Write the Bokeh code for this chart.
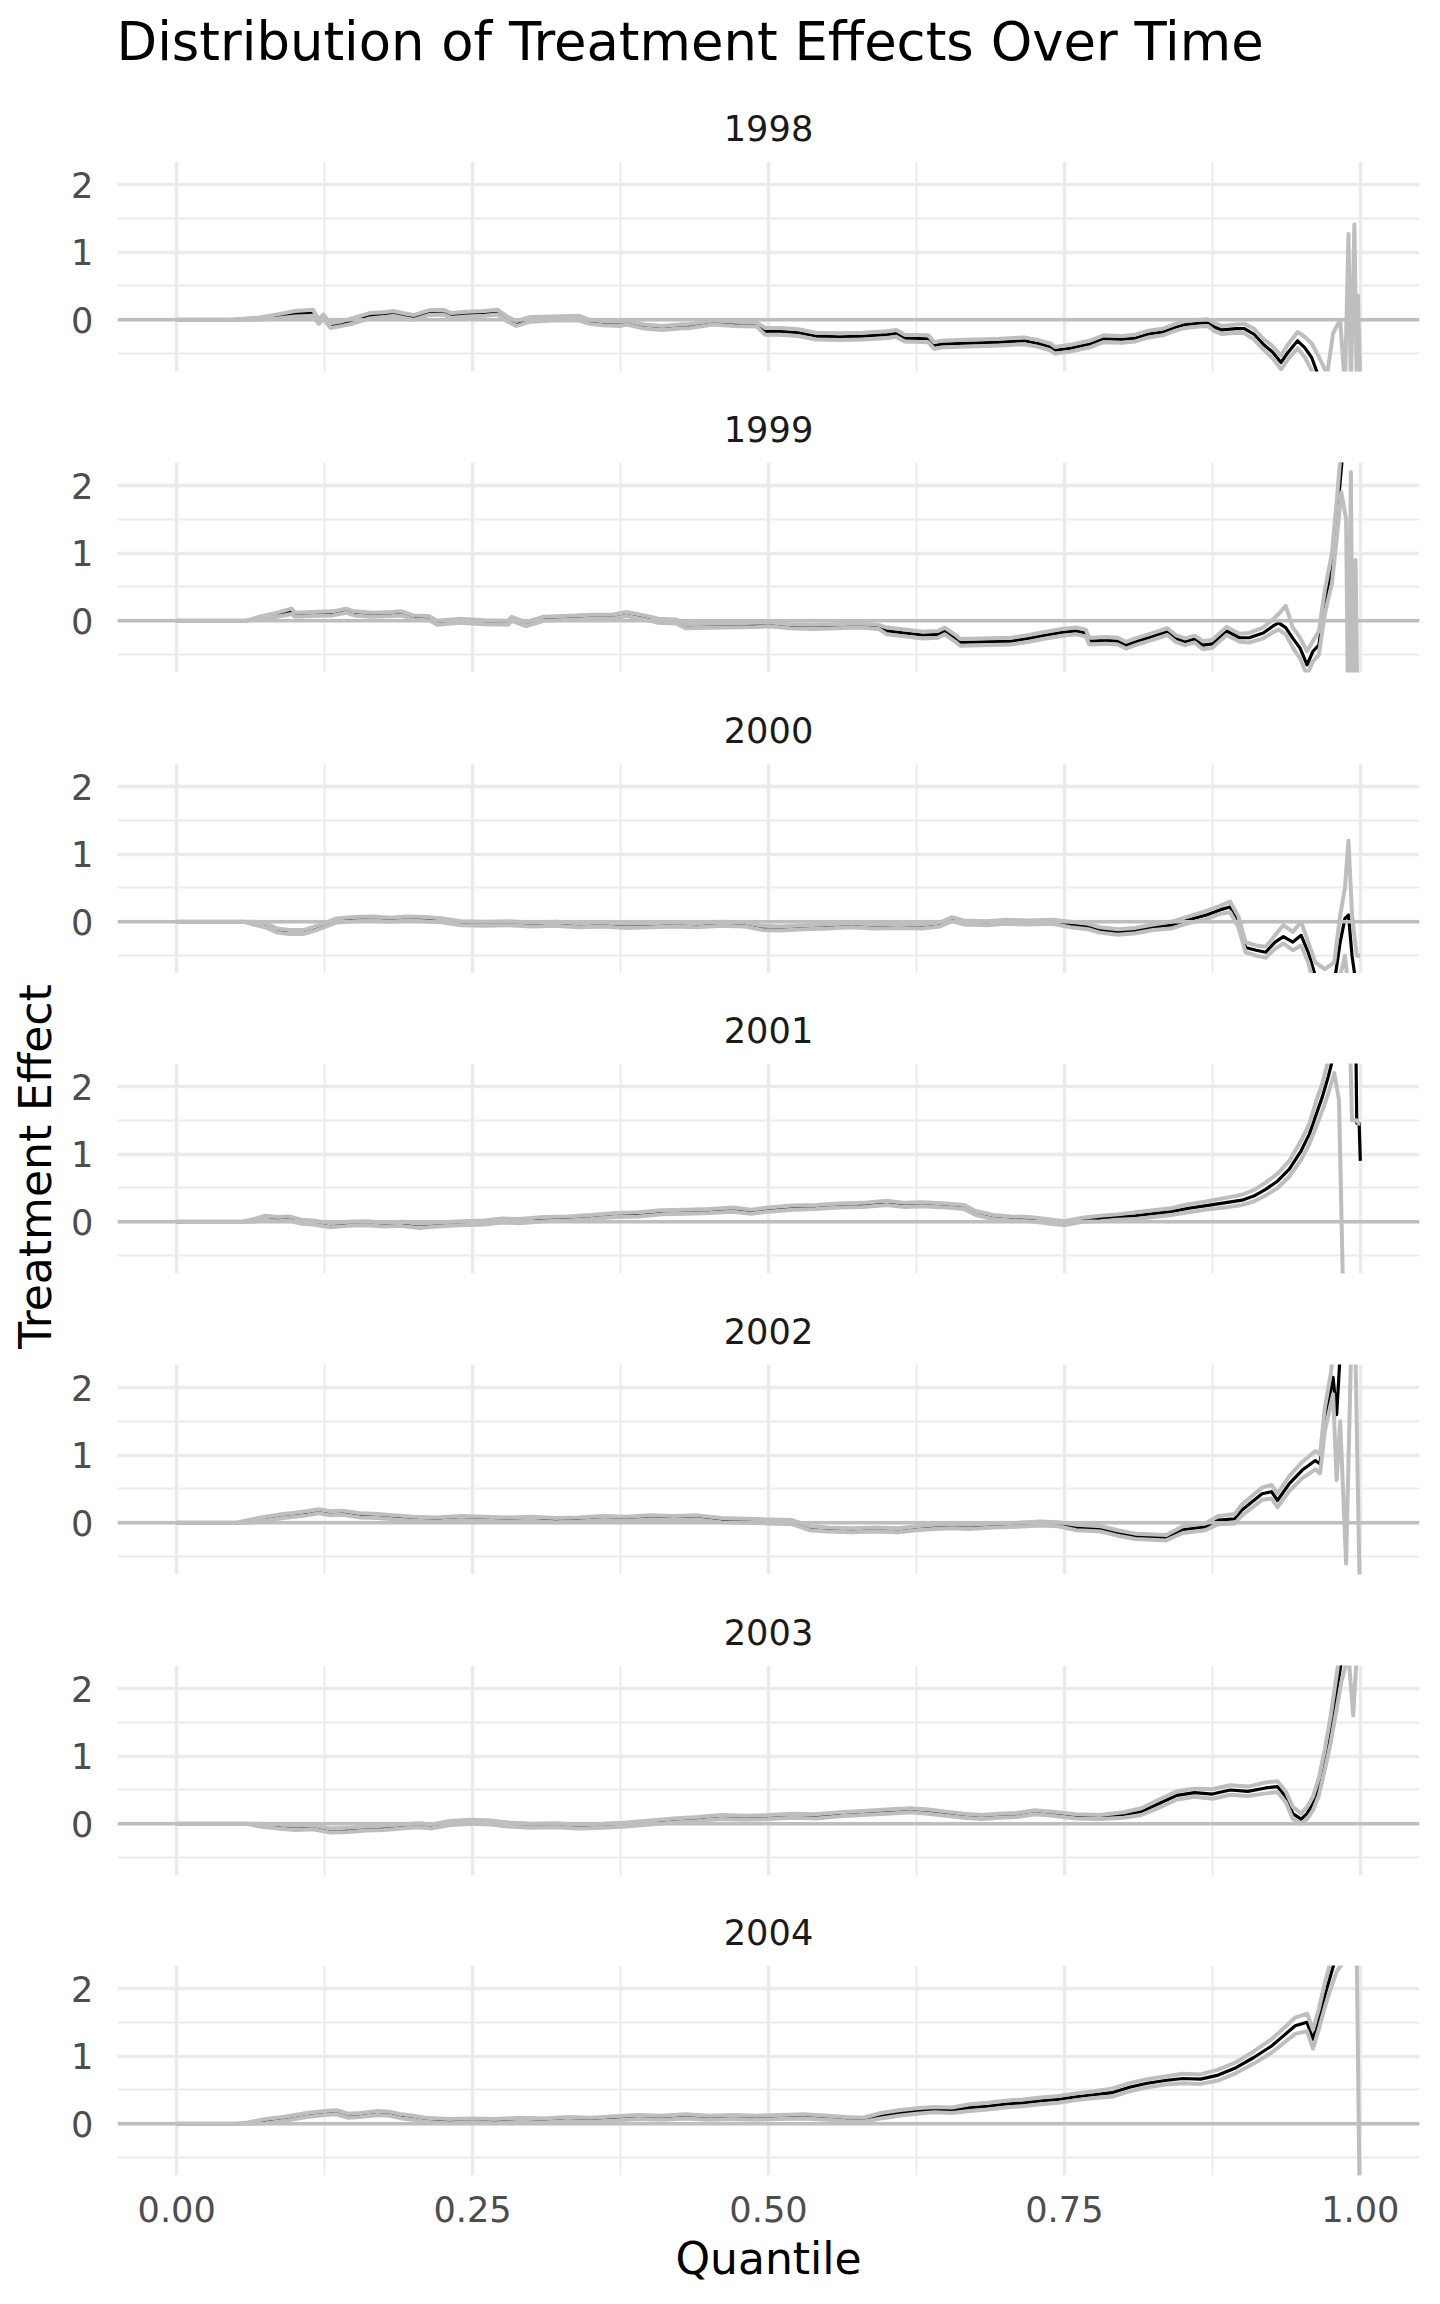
from bokeh.plotting import figure
from bokeh.layouts import column, row
from bokeh.models import Range1d, FixedTicker, NumeralTickFormatter, Title, ColumnDataSource, Span
from bokeh.embed import file_html
from bokeh.resources import INLINE

TITLE = "Distribution of Treatment Effects Over Time"
X_LABEL = "Quantile"
Y_LABEL = "Treatment Effect"
years = ["1998", "1999", "2000", "2001", "2002", "2003", "2004"]
x_ticks = [0.0, 0.25, 0.5, 0.75, 1.0]
x_minor = [0.125, 0.375, 0.625, 0.875]
y_ticks = [0, 1, 2]
y_minor = [-0.5, 0.5, 1.5]

# rows: (quantile, estimate, lower, upper)
rows_1998 = [
    (0, 0, 0, 0), (0.045, 0, 0, 0), (0.07, 0.02, 0.0, 0.035), (0.085, 0.05, 0.02, 0.08),
    (0.1, 0.09, 0.05, 0.13), (0.115, 0.1, 0.06, 0.15), (0.12, -0.03, -0.06, 0.01), (0.124, 0.05, 0.01, 0.08),
    (0.13, -0.08, -0.12, -0.05), (0.14, -0.05, -0.09, -0.02), (0.15, -0.01, -0.05, 0.03), (0.163, 0.06, 0.02, 0.1),
    (0.175, 0.08, 0.04, 0.11), (0.183, 0.1, 0.06, 0.13), (0.194, 0.06, 0.02, 0.09), (0.2, 0.03, 0.0, 0.07),
    (0.213, 0.11, 0.07, 0.14), (0.225, 0.12, 0.08, 0.15), (0.232, 0.06, 0.03, 0.1), (0.245, 0.09, 0.05, 0.12),
    (0.26, 0.1, 0.06, 0.13), (0.271, 0.12, 0.08, 0.15), (0.279, 0.02, -0.02, 0.05), (0.287, -0.06, -0.09, -0.02),
    (0.298, 0.01, -0.03, 0.04), (0.318, 0.02, -0.01, 0.05), (0.34, 0.03, -0.01, 0.06), (0.349, -0.03, -0.06, 0.0),
    (0.36, -0.05, -0.08, -0.02), (0.375, -0.06, -0.09, -0.03), (0.38, -0.04, -0.07, -0.01), (0.395, -0.1, -0.13, -0.07),
    (0.41, -0.12, -0.15, -0.09), (0.425, -0.1, -0.13, -0.07), (0.434, -0.09, -0.12, -0.06), (0.453, -0.04, -0.07, -0.01),
    (0.47, -0.06, -0.09, -0.03), (0.49, -0.07, -0.1, -0.04), (0.497, -0.17, -0.22, -0.12), (0.51, -0.17, -0.22, -0.12),
    (0.525, -0.19, -0.24, -0.14), (0.54, -0.24, -0.29, -0.19), (0.56, -0.25, -0.3, -0.2), (0.58, -0.24, -0.29, -0.19),
    (0.6, -0.22, -0.27, -0.17), (0.608, -0.2, -0.25, -0.15), (0.615, -0.27, -0.32, -0.22), (0.635, -0.28, -0.33, -0.23),
    (0.64, -0.38, -0.43, -0.33), (0.646, -0.36, -0.41, -0.31), (0.66, -0.35, -0.4, -0.3), (0.677, -0.34, -0.39, -0.29),
    (0.695, -0.33, -0.38, -0.28), (0.716, -0.31, -0.36, -0.26), (0.728, -0.35, -0.4, -0.3), (0.738, -0.4, -0.45, -0.35),
    (0.742, -0.45, -0.5, -0.4), (0.755, -0.42, -0.47, -0.37), (0.771, -0.36, -0.41, -0.31), (0.783, -0.28, -0.33, -0.23),
    (0.798, -0.29, -0.34, -0.24), (0.81, -0.27, -0.32, -0.22), (0.821, -0.21, -0.26, -0.16), (0.833, -0.18, -0.23, -0.13),
    (0.844, -0.11, -0.16, -0.06), (0.852, -0.07, -0.12, -0.02), (0.864, -0.05, -0.1, 0.0), (0.871, -0.04, -0.09, 0.01),
    (0.877, -0.11, -0.17, -0.05), (0.883, -0.15, -0.21, -0.09), (0.895, -0.13, -0.19, -0.07), (0.902, -0.13, -0.2, -0.06),
    (0.91, -0.21, -0.29, -0.13), (0.918, -0.36, -0.44, -0.28), (0.926, -0.48, -0.57, -0.39), (0.933, -0.63, -0.73, -0.53),
    (0.939, -0.48, -0.58, -0.36), (0.947, -0.31, -0.42, -0.18), (0.953, -0.41, -0.55, -0.25), (0.959, -0.56, -0.75, -0.35),
    (0.965, -0.85, -1.2, -0.55), (0.972, -1.1, -1.6, -0.8), (0.977, -1.0, -1.8, -0.2), (0.983, -1.0, -2.0, 0.0),
    (0.987, -1.2, -2.5, -1.0), (0.99, -1.0, -2.5, 1.27), (0.992, -1.2, -2.5, -1.0), (0.995, -1.1, -2.5, 1.41),
    (0.997, -1.2, -2.5, -1.0), (0.998, -1.0, -2.5, 0.36), (1.0, -1.1, -2.5, -1.0),
]

rows_1999 = [
    (0, 0, 0, 0), (0.058, 0, 0, 0), (0.07, 0.04, 0.02, 0.06), (0.085, 0.09, 0.06, 0.12),
    (0.097, 0.14, 0.1, 0.18), (0.1, 0.09, 0.06, 0.12), (0.115, 0.1, 0.07, 0.13), (0.132, 0.11, 0.08, 0.14),
    (0.143, 0.15, 0.12, 0.18), (0.15, 0.11, 0.08, 0.14), (0.165, 0.09, 0.06, 0.12), (0.182, 0.1, 0.07, 0.13),
    (0.19, 0.11, 0.08, 0.14), (0.2, 0.05, 0.02, 0.08), (0.213, 0.04, 0.01, 0.07), (0.22, -0.03, -0.06, 0.0),
    (0.24, 0.0, -0.03, 0.03), (0.26, -0.02, -0.05, 0.01), (0.28, -0.03, -0.06, 0.0), (0.283, 0.03, 0.0, 0.06),
    (0.295, -0.05, -0.08, -0.02), (0.31, 0.03, 0.0, 0.06), (0.337, 0.05, 0.02, 0.08), (0.35, 0.06, 0.03, 0.09),
    (0.368, 0.06, 0.03, 0.09), (0.38, 0.1, 0.07, 0.13), (0.395, 0.05, 0.02, 0.08), (0.407, 0.0, -0.03, 0.03),
    (0.422, -0.01, -0.04, 0.02), (0.43, -0.08, -0.11, -0.05), (0.46, -0.07, -0.1, -0.04), (0.49, -0.06, -0.09, -0.03),
    (0.5, -0.05, -0.08, -0.02), (0.518, -0.08, -0.11, -0.05), (0.538, -0.09, -0.12, -0.06), (0.557, -0.08, -0.11, -0.05),
    (0.577, -0.07, -0.1, -0.04), (0.593, -0.09, -0.12, -0.06), (0.6, -0.15, -0.2, -0.1), (0.615, -0.18, -0.23, -0.13),
    (0.63, -0.21, -0.26, -0.16), (0.643, -0.2, -0.25, -0.15), (0.649, -0.15, -0.2, -0.1), (0.658, -0.26, -0.31, -0.21),
    (0.662, -0.32, -0.37, -0.27), (0.68, -0.31, -0.36, -0.26), (0.705, -0.3, -0.35, -0.25), (0.72, -0.26, -0.31, -0.21),
    (0.732, -0.22, -0.27, -0.17), (0.748, -0.17, -0.22, -0.12), (0.76, -0.15, -0.2, -0.1), (0.768, -0.18, -0.23, -0.13),
    (0.771, -0.3, -0.35, -0.25), (0.785, -0.29, -0.34, -0.24), (0.795, -0.3, -0.35, -0.25), (0.802, -0.36, -0.41, -0.31),
    (0.81, -0.31, -0.36, -0.26), (0.821, -0.25, -0.3, -0.2), (0.837, -0.16, -0.21, -0.11), (0.844, -0.26, -0.31, -0.21),
    (0.852, -0.31, -0.36, -0.26), (0.86, -0.27, -0.32, -0.22), (0.867, -0.36, -0.42, -0.3), (0.875, -0.34, -0.4, -0.28),
    (0.887, -0.15, -0.21, -0.09), (0.898, -0.25, -0.31, -0.19), (0.906, -0.25, -0.32, -0.18), (0.918, -0.18, -0.26, -0.1),
    (0.926, -0.08, -0.17, 0.02), (0.931, -0.03, -0.13, 0.1), (0.937, -0.1, -0.2, 0.22), (0.943, -0.26, -0.4, -0.1),
    (0.949, -0.4, -0.55, -0.25), (0.955, -0.65, -0.8, -0.45), (0.96, -0.45, -0.6, -0.3), (0.965, -0.36, -0.5, -0.15),
    (0.97, 0.28, 0.1, 0.45), (0.976, 0.78, 0.55, 1.0), (0.98, 1.47, 1.2, 1.75), (0.984, 2.26, 1.9, 2.6),
    (0.988, 3.0, 1.5, 4.0), (0.99, 3.5, -2.0, 4.0), (0.992, 3.2, 2.2, 4.0), (0.994, 3.5, -2.0, 4.0),
    (0.996, 3.0, 0.9, 4.0), (0.998, 3.5, -2.0, 4.0), (1.0, 3.0, -2.0, 4.0),
]

rows_2000 = [
    (0, 0, 0, 0), (0.057, 0, 0, 0), (0.065, -0.02, -0.04, 0.0), (0.076, -0.06, -0.09, -0.03),
    (0.085, -0.13, -0.16, -0.1), (0.095, -0.15, -0.18, -0.12), (0.107, -0.15, -0.18, -0.12), (0.115, -0.11, -0.14, -0.08),
    (0.125, -0.05, -0.08, -0.02), (0.135, 0.02, -0.01, 0.05), (0.15, 0.04, 0.01, 0.07), (0.165, 0.05, 0.02, 0.08),
    (0.18, 0.03, 0.0, 0.06), (0.195, 0.05, 0.02, 0.08), (0.21, 0.04, 0.01, 0.07), (0.225, 0.02, -0.01, 0.05),
    (0.24, -0.02, -0.05, 0.01), (0.26, -0.03, -0.06, 0.0), (0.28, -0.02, -0.05, 0.01), (0.3, -0.04, -0.07, -0.01),
    (0.32, -0.03, -0.06, 0.0), (0.34, -0.05, -0.08, -0.02), (0.36, -0.04, -0.07, -0.01), (0.38, -0.06, -0.09, -0.03),
    (0.4, -0.05, -0.08, -0.02), (0.42, -0.04, -0.07, -0.01), (0.44, -0.05, -0.08, -0.02), (0.46, -0.03, -0.06, 0.0),
    (0.48, -0.04, -0.07, -0.01), (0.495, -0.09, -0.12, -0.06), (0.51, -0.1, -0.13, -0.07), (0.53, -0.08, -0.11, -0.05),
    (0.55, -0.07, -0.1, -0.04), (0.57, -0.05, -0.08, -0.02), (0.59, -0.07, -0.1, -0.04), (0.61, -0.06, -0.09, -0.03),
    (0.63, -0.07, -0.1, -0.04), (0.645, -0.04, -0.07, -0.01), (0.655, 0.04, 0.01, 0.07), (0.665, -0.01, -0.04, 0.02),
    (0.685, -0.02, -0.05, 0.01), (0.7, 0.0, -0.03, 0.03), (0.72, -0.01, -0.04, 0.02), (0.74, 0.0, -0.03, 0.03),
    (0.755, -0.04, -0.08, 0.0), (0.77, -0.07, -0.11, -0.03), (0.78, -0.12, -0.16, -0.08), (0.795, -0.15, -0.19, -0.11),
    (0.81, -0.13, -0.17, -0.09), (0.825, -0.08, -0.12, -0.04), (0.84, -0.05, -0.1, 0.0), (0.855, 0.03, -0.02, 0.08),
    (0.87, 0.1, 0.04, 0.16), (0.882, 0.18, 0.12, 0.24), (0.89, 0.22, 0.14, 0.3), (0.897, 0.0, -0.08, 0.08),
    (0.903, -0.38, -0.45, -0.3), (0.912, -0.42, -0.5, -0.35), (0.92, -0.45, -0.53, -0.37), (0.928, -0.3, -0.4, -0.2),
    (0.935, -0.22, -0.32, -0.05), (0.943, -0.3, -0.42, -0.15), (0.95, -0.2, -0.35, 0.0), (0.956, -0.45, -0.6, -0.3),
    (0.962, -0.8, -1.0, -0.6), (0.97, -1.0, -1.3, -0.7), (0.978, -0.9, -1.3, -0.6), (0.983, -0.3, -0.8, 0.1),
    (0.987, 0.05, -0.5, 0.5), (0.99, 0.1, -1.0, 1.2), (0.993, -0.5, -1.5, 0.1), (0.997, -1.0, -2.0, -0.5),
    (1.0, -1.0, -2.0, -0.5),
]

rows_2001 = [
    (0, 0, 0, 0), (0.055, 0, 0, 0), (0.065, 0.02, 0.0, 0.04), (0.075, 0.06, 0.03, 0.09),
    (0.085, 0.04, 0.01, 0.07), (0.095, 0.05, 0.02, 0.08), (0.105, 0.0, -0.03, 0.03), (0.115, -0.01, -0.04, 0.02),
    (0.13, -0.05, -0.08, -0.02), (0.145, -0.03, -0.06, 0.0), (0.16, -0.02, -0.05, 0.01), (0.175, -0.04, -0.07, -0.01),
    (0.19, -0.03, -0.06, 0.0), (0.205, -0.06, -0.09, -0.03), (0.22, -0.04, -0.07, -0.01), (0.24, -0.02, -0.05, 0.01),
    (0.26, -0.01, -0.04, 0.02), (0.275, 0.02, -0.01, 0.05), (0.29, 0.01, -0.02, 0.04), (0.31, 0.04, 0.01, 0.07),
    (0.33, 0.05, 0.02, 0.08), (0.35, 0.07, 0.04, 0.1), (0.37, 0.1, 0.07, 0.13), (0.39, 0.11, 0.08, 0.14),
    (0.41, 0.14, 0.11, 0.17), (0.43, 0.15, 0.12, 0.18), (0.45, 0.16, 0.13, 0.19), (0.47, 0.18, 0.15, 0.21),
    (0.485, 0.15, 0.12, 0.18), (0.5, 0.18, 0.15, 0.21), (0.52, 0.21, 0.18, 0.24), (0.54, 0.22, 0.19, 0.25),
    (0.56, 0.24, 0.21, 0.27), (0.58, 0.25, 0.22, 0.28), (0.6, 0.28, 0.25, 0.31), (0.615, 0.25, 0.22, 0.28),
    (0.63, 0.26, 0.23, 0.29), (0.65, 0.24, 0.21, 0.27), (0.665, 0.22, 0.19, 0.25), (0.675, 0.13, 0.1, 0.16),
    (0.69, 0.07, 0.04, 0.1), (0.705, 0.05, 0.02, 0.08), (0.72, 0.04, 0.01, 0.07), (0.735, 0.01, -0.02, 0.04),
    (0.75, -0.02, -0.05, 0.01), (0.765, 0.03, 0.0, 0.06), (0.78, 0.05, 0.01, 0.09), (0.795, 0.07, 0.03, 0.11),
    (0.81, 0.09, 0.04, 0.14), (0.825, 0.12, 0.07, 0.17), (0.84, 0.15, 0.1, 0.2), (0.855, 0.2, 0.14, 0.26),
    (0.87, 0.24, 0.18, 0.3), (0.885, 0.28, 0.21, 0.35), (0.9, 0.32, 0.25, 0.4), (0.91, 0.38, 0.3, 0.47),
    (0.92, 0.48, 0.39, 0.58), (0.93, 0.6, 0.5, 0.71), (0.94, 0.78, 0.67, 0.9), (0.95, 1.05, 0.92, 1.2),
    (0.957, 1.3, 1.15, 1.45), (0.963, 1.6, 1.42, 1.8), (0.968, 1.85, 1.65, 2.05), (0.973, 2.15, 1.9, 2.4),
    (0.978, 2.5, 2.2, 2.8), (0.982, 2.8, 1.8, 3.2), (0.986, 3.0, -1.5, 3.4), (0.99, 3.2, -2.0, 3.5),
    (0.993, 3.0, -2.0, 1.5), (0.996, 3.0, -2.0, 1.5), (0.997, 1.46, -1.0, 1.5), (0.999, 1.46, -1.0, 1.45),
    (1.0, 0.9, -1.0, 1.45),
]

rows_2002 = [
    (0, 0, 0, 0), (0.05, 0, 0, 0), (0.06, 0.02, 0.0, 0.04), (0.075, 0.06, 0.03, 0.09),
    (0.09, 0.1, 0.07, 0.13), (0.1, 0.12, 0.09, 0.15), (0.11, 0.14, 0.11, 0.17), (0.12, 0.17, 0.14, 0.2),
    (0.13, 0.14, 0.11, 0.17), (0.14, 0.15, 0.12, 0.18), (0.155, 0.11, 0.08, 0.14), (0.17, 0.1, 0.07, 0.13),
    (0.185, 0.08, 0.05, 0.11), (0.2, 0.06, 0.03, 0.09), (0.22, 0.05, 0.02, 0.08), (0.24, 0.07, 0.04, 0.1),
    (0.26, 0.06, 0.03, 0.09), (0.28, 0.05, 0.02, 0.08), (0.3, 0.06, 0.03, 0.09), (0.32, 0.04, 0.01, 0.07),
    (0.34, 0.05, 0.02, 0.08), (0.36, 0.07, 0.04, 0.1), (0.38, 0.06, 0.03, 0.09), (0.4, 0.08, 0.05, 0.11),
    (0.42, 0.07, 0.04, 0.1), (0.44, 0.08, 0.05, 0.11), (0.46, 0.04, 0.01, 0.07), (0.48, 0.03, 0.0, 0.06),
    (0.5, 0.02, -0.01, 0.05), (0.52, 0.01, -0.02, 0.04), (0.535, -0.08, -0.11, -0.05), (0.55, -0.1, -0.13, -0.07),
    (0.57, -0.11, -0.14, -0.08), (0.59, -0.1, -0.13, -0.07), (0.61, -0.11, -0.14, -0.08), (0.625, -0.08, -0.11, -0.05),
    (0.64, -0.06, -0.09, -0.03), (0.655, -0.05, -0.08, -0.02), (0.67, -0.06, -0.09, -0.03), (0.69, -0.04, -0.07, -0.01),
    (0.71, -0.03, -0.06, 0.0), (0.73, -0.01, -0.04, 0.02), (0.745, -0.02, -0.05, 0.01), (0.76, -0.07, -0.11, -0.03),
    (0.781, -0.09, -0.13, -0.05), (0.795, -0.15, -0.19, -0.11), (0.81, -0.2, -0.24, -0.16), (0.836, -0.22, -0.26, -0.18),
    (0.85, -0.1, -0.15, -0.05), (0.869, -0.06, -0.11, -0.01), (0.88, 0.04, -0.02, 0.1), (0.894, 0.06, -0.01, 0.13),
    (0.9, 0.19, 0.11, 0.27), (0.917, 0.43, 0.34, 0.52), (0.925, 0.46, 0.36, 0.56), (0.93, 0.33, 0.23, 0.43),
    (0.94, 0.58, 0.47, 0.69), (0.951, 0.78, 0.66, 0.9), (0.962, 0.92, 0.79, 1.06), (0.966, 0.87, 0.73, 1.01),
    (0.97, 1.52, 1.35, 1.7), (0.975, 1.96, 1.75, 2.2), (0.977, 2.15, 1.9, 2.5), (0.98, 1.6, 0.63, 3.0),
    (0.983, 2.5, 1.5, 3.5), (0.988, 3.0, -0.6, 3.5), (0.992, 3.0, 2.4, 3.5), (0.996, 3.0, 2.4, 3.5),
    (0.9995, 3.0, -1.0, 3.5), (1.0, 3.0, -1.0, 3.5),
]

rows_2003 = [
    (0, 0, 0, 0), (0.06, 0, 0, 0), (0.07, -0.02, -0.04, 0.0), (0.085, -0.04, -0.07, -0.01),
    (0.1, -0.06, -0.09, -0.03), (0.115, -0.05, -0.08, -0.02), (0.13, -0.1, -0.13, -0.07), (0.145, -0.09, -0.12, -0.06),
    (0.16, -0.07, -0.1, -0.04), (0.175, -0.06, -0.09, -0.03), (0.19, -0.04, -0.07, -0.01), (0.205, -0.02, -0.05, 0.01),
    (0.215, -0.04, -0.07, -0.01), (0.23, 0.01, -0.02, 0.04), (0.25, 0.03, 0.0, 0.06), (0.265, 0.02, -0.01, 0.05),
    (0.28, -0.01, -0.04, 0.02), (0.3, -0.03, -0.06, 0.0), (0.32, -0.02, -0.05, 0.01), (0.34, -0.04, -0.07, -0.01),
    (0.36, -0.03, -0.06, 0.0), (0.38, -0.01, -0.04, 0.02), (0.4, 0.02, -0.01, 0.05), (0.42, 0.05, 0.02, 0.08),
    (0.44, 0.07, 0.04, 0.1), (0.46, 0.1, 0.07, 0.13), (0.48, 0.09, 0.06, 0.12), (0.5, 0.1, 0.07, 0.13),
    (0.52, 0.12, 0.09, 0.15), (0.54, 0.11, 0.08, 0.14), (0.56, 0.14, 0.11, 0.17), (0.58, 0.16, 0.13, 0.19),
    (0.6, 0.18, 0.15, 0.21), (0.62, 0.2, 0.17, 0.23), (0.635, 0.18, 0.15, 0.21), (0.65, 0.15, 0.12, 0.18),
    (0.665, 0.12, 0.09, 0.15), (0.68, 0.1, 0.07, 0.13), (0.695, 0.12, 0.09, 0.15), (0.71, 0.13, 0.1, 0.16),
    (0.725, 0.17, 0.14, 0.2), (0.74, 0.15, 0.12, 0.18), (0.76, 0.11, 0.08, 0.14), (0.78, 0.1, 0.07, 0.13),
    (0.8, 0.13, 0.09, 0.17), (0.815, 0.18, 0.13, 0.23), (0.83, 0.3, 0.24, 0.36), (0.845, 0.42, 0.36, 0.48),
    (0.86, 0.46, 0.4, 0.52), (0.875, 0.44, 0.37, 0.51), (0.89, 0.5, 0.43, 0.57), (0.905, 0.48, 0.41, 0.55),
    (0.92, 0.53, 0.45, 0.61), (0.93, 0.55, 0.47, 0.63), (0.937, 0.4, 0.32, 0.48), (0.943, 0.15, 0.07, 0.25),
    (0.95, 0.07, 0.0, 0.15), (0.955, 0.15, 0.07, 0.25), (0.96, 0.3, 0.2, 0.4), (0.965, 0.55, 0.42, 0.68),
    (0.97, 0.95, 0.8, 1.1), (0.975, 1.4, 1.2, 1.6), (0.98, 1.95, 1.7, 2.2), (0.984, 2.4, 2.1, 2.7),
    (0.99, 3.0, 2.5, 3.5), (0.994, 3.0, 1.6, 3.5), (0.997, 3.0, 2.5, 3.5), (1.0, 3.0, 2.5, 3.5),
]

rows_2004 = [
    (0, 0, 0, 0), (0.05, 0, 0, 0), (0.06, 0.01, 0.0, 0.02), (0.075, 0.04, 0.01, 0.07),
    (0.09, 0.07, 0.04, 0.1), (0.1, 0.1, 0.07, 0.13), (0.11, 0.13, 0.1, 0.16), (0.125, 0.16, 0.13, 0.19),
    (0.135, 0.17, 0.14, 0.2), (0.145, 0.12, 0.09, 0.15), (0.155, 0.13, 0.1, 0.16), (0.17, 0.16, 0.13, 0.19),
    (0.18, 0.15, 0.12, 0.18), (0.19, 0.11, 0.08, 0.14), (0.2, 0.09, 0.06, 0.12), (0.21, 0.06, 0.03, 0.09),
    (0.23, 0.04, 0.01, 0.07), (0.25, 0.05, 0.02, 0.08), (0.27, 0.04, 0.01, 0.07), (0.29, 0.06, 0.03, 0.09),
    (0.31, 0.05, 0.02, 0.08), (0.33, 0.07, 0.04, 0.1), (0.35, 0.06, 0.03, 0.09), (0.37, 0.08, 0.05, 0.11),
    (0.39, 0.1, 0.07, 0.13), (0.41, 0.09, 0.06, 0.12), (0.43, 0.11, 0.08, 0.14), (0.45, 0.09, 0.06, 0.12),
    (0.47, 0.1, 0.07, 0.13), (0.49, 0.09, 0.06, 0.12), (0.51, 0.1, 0.07, 0.13), (0.53, 0.11, 0.08, 0.14),
    (0.55, 0.09, 0.06, 0.12), (0.565, 0.07, 0.04, 0.1), (0.58, 0.06, 0.03, 0.09), (0.595, 0.12, 0.08, 0.16),
    (0.61, 0.16, 0.12, 0.2), (0.625, 0.19, 0.15, 0.23), (0.64, 0.21, 0.17, 0.25), (0.655, 0.2, 0.16, 0.24),
    (0.67, 0.24, 0.19, 0.29), (0.685, 0.26, 0.21, 0.31), (0.7, 0.29, 0.24, 0.34), (0.715, 0.31, 0.26, 0.36),
    (0.73, 0.34, 0.29, 0.39), (0.745, 0.36, 0.31, 0.41), (0.76, 0.4, 0.35, 0.45), (0.775, 0.43, 0.38, 0.48),
    (0.79, 0.46, 0.4, 0.52), (0.805, 0.54, 0.48, 0.6), (0.82, 0.6, 0.54, 0.66), (0.835, 0.64, 0.58, 0.7),
    (0.85, 0.67, 0.6, 0.74), (0.865, 0.66, 0.59, 0.73), (0.88, 0.72, 0.64, 0.8), (0.895, 0.83, 0.75, 0.91),
    (0.91, 0.98, 0.89, 1.07), (0.925, 1.15, 1.05, 1.25), (0.935, 1.3, 1.19, 1.41), (0.945, 1.45, 1.33, 1.57),
    (0.955, 1.5, 1.37, 1.63), (0.96, 1.25, 1.11, 1.39), (0.965, 1.55, 1.4, 1.7), (0.97, 1.9, 1.72, 2.08),
    (0.975, 2.2, 2.0, 2.4), (0.98, 2.5, 2.25, 2.75), (0.99, 3.0, 2.5, 3.5), (0.997, 3.0, 2.5, 3.5),
    (1.0, 3.0, -2.0, 4.0),
]

panel_rows = [rows_1998, rows_1999, rows_2000, rows_2001, rows_2002, rows_2003, rows_2004]

FONT = "DejaVu Sans"
GRID = "#EBEBEB"
BAND = "#BEBEBE"
PAGE_W = 1432
TOP_H = 80
LABEL_W = 68
PANEL_W = PAGE_W - LABEL_W
FRAME_H = 210
tops = [81, 90, 90, 90, 90, 90, 90]
bottoms = [1, 1, 0, 1, 1, 0, 129]
PANELS_H = sum(tops) + sum(bottoms) + FRAME_H * len(years)


def blank(width, height, **borders):
    b = figure(width=width, height=height, x_range=Range1d(0, 1), y_range=Range1d(0, 1),
               output_backend="svg", toolbar_location=None, title=None,
               x_axis_location=None, y_axis_location=None, **borders)
    b.grid.visible = False
    b.outline_line_color = None
    b.background_fill_color = "white"
    b.border_fill_color = "white"
    return b


# main title strip across the top
top_fig = blank(PAGE_W, TOP_H, min_border_left=116, min_border_right=0,
                min_border_top=0, min_border_bottom=0)
top_fig.add_layout(Title(text=TITLE, align="left", offset=0, standoff=18, text_font=FONT,
                         text_font_size="52.8px", text_font_style="normal", text_color="black"), "above")

# shared y-axis title column on the left
label_fig = blank(LABEL_W, PANELS_H, min_border_left=0, min_border_right=0,
                  min_border_top=0, min_border_bottom=52)
label_fig.add_layout(Title(text=Y_LABEL, align="center", standoff=14.6, text_font=FONT,
                           text_font_size="44px", text_font_style="normal", text_color="black"), "left")

figs = []
n = len(years)
for i, (yr, rows) in enumerate(zip(years, panel_rows)):
    last = (i == n - 1)
    q, est, lo, hi = (list(c) for c in zip(*rows))
    src = ColumnDataSource(dict(q=q, est=est, lo=lo, hi=hi))
    p = figure(width=PANEL_W, height=tops[i] + FRAME_H + bottoms[i],
               x_range=Range1d(-0.05, 1.05), y_range=Range1d(-0.764, 2.34),
               output_backend="svg", toolbar_location=None, title=None,
               min_border_left=48, min_border_right=13,
               min_border_top=tops[i], min_border_bottom=bottoms[i])
    p.background_fill_color = "white"
    p.border_fill_color = "white"
    p.outline_line_color = None

    xt = FixedTicker(ticks=x_ticks, minor_ticks=x_minor)
    yt = FixedTicker(ticks=y_ticks, minor_ticks=y_minor)
    p.xaxis.ticker = xt
    p.yaxis.ticker = yt
    p.xgrid.ticker = xt
    p.ygrid.ticker = yt
    for g in (p.xgrid, p.ygrid):
        g.grid_line_color = GRID
        g.grid_line_width = 3.5
        g.minor_grid_line_color = GRID
        g.minor_grid_line_width = 2

    for ax in (p.xaxis, p.yaxis):
        ax.axis_line_color = None
        ax.major_tick_line_color = None
        ax.minor_tick_line_color = None
        ax.major_tick_out = 0
        ax.major_tick_in = 0
        ax.major_label_text_font = FONT
        ax.major_label_text_font_size = "35.2px"
        ax.major_label_text_color = "#4D4D4D"
        ax.axis_label_text_font = FONT
        ax.axis_label_text_font_size = "44px"
        ax.axis_label_text_font_style = "normal"
        ax.axis_label_text_color = "black"

    p.yaxis.major_label_standoff = 20

    if last:
        p.xaxis.formatter = NumeralTickFormatter(format="0.00")
        p.xaxis.major_label_standoff = 16
        p.xaxis.axis_label = X_LABEL
        p.xaxis.axis_label_standoff = 8
    else:
        p.xaxis.visible = False

    p.add_layout(Span(location=0, dimension="width", line_color=BAND, line_width=3.5))

    p.line(x="q", y="est", source=src, line_color="black", line_width=3.2, line_join="round")
    p.line(x="q", y="lo", source=src, line_color=BAND, line_width=4, line_join="round")
    p.line(x="q", y="hi", source=src, line_color=BAND, line_width=4, line_join="round")

    p.add_layout(Title(text=yr, align="center", text_font=FONT, text_font_size="35.2px",
                       text_font_style="normal", text_color="#1A1A1A", standoff=42), "above")
    figs.append(p)

layout = column(top_fig, row(label_fig, column(*figs, spacing=0), spacing=0), spacing=0)
open("out.html", "w").write(file_html(layout, INLINE))
